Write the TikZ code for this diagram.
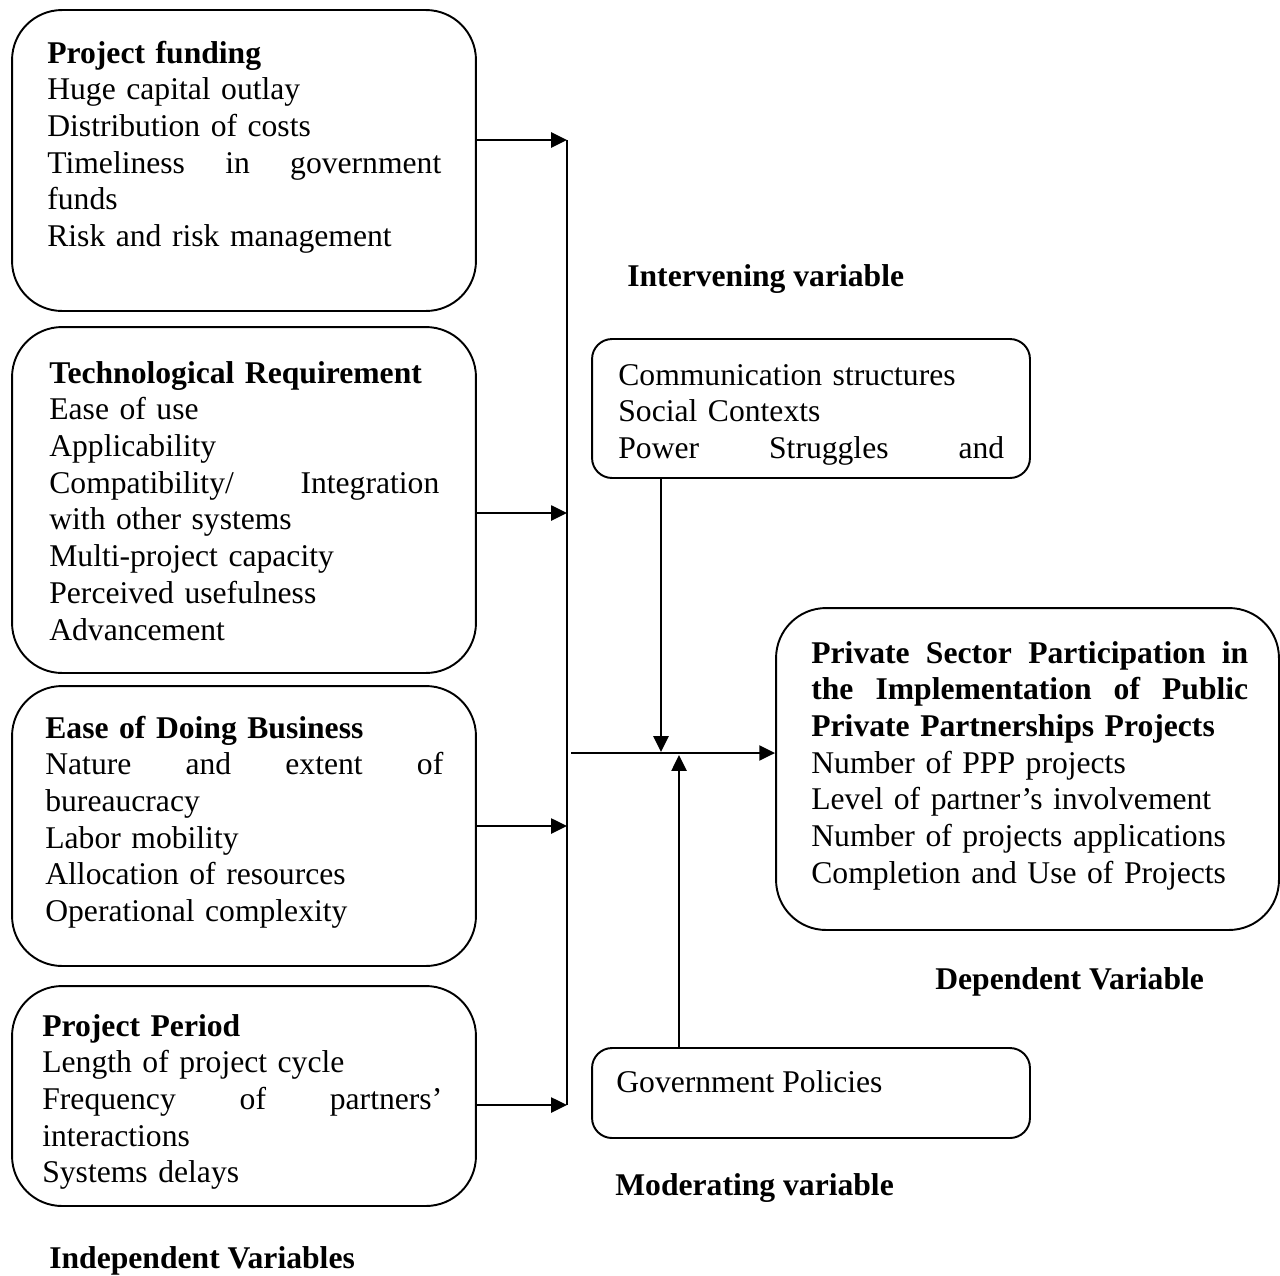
\documentclass[tikz,border=0pt]{standalone}
\usepackage{fontspec}
\setmainfont{Liberation Serif}
\usepackage{tikz}
\usetikzlibrary{arrows.meta}
\usetikzlibrary{calc}
\tikzstyle{vb}=[rectangle,draw,line width=1.1pt,rounded corners=1cm,inner sep=0pt]
\tikzstyle{sb}=[rectangle,draw,line width=1.1pt,rounded corners=0.4cm,inner sep=0pt]
\tikzstyle{txt}=[anchor=base west,inner sep=0pt,align=left,font=\fontsize{18}{20.9}\selectfont]
\tikzstyle{lbl}=[anchor=base west,inner sep=0pt,font=\fontsize{18}{20.9}\selectfont\bfseries]
\tikzstyle{arr}=[line width=1.3pt,-{Triangle[length=9pt,width=8.5pt]}]

\begin{document}
\begin{tikzpicture}[x=0.02cm,y=-0.02cm]
\useasboundingbox (0,0) rectangle (1280,1275);

%independent boxes
\node[vb,minimum width=9.28cm,minimum height=6.02cm] (fund) at (244,160.5) {};
\node[vb,minimum width=9.28cm,minimum height=6.92cm] (tech) at (244,500) {};
\node[vb,minimum width=9.28cm,minimum height=5.6cm] (ease) at (244,826) {};
\node[vb,minimum width=9.28cm,minimum height=4.4cm] (period) at (244,1096) {};

\node[txt,text width=7.88cm] (fundtxt) at (47,63) {\textbf{Project funding}\\
Huge capital outlay\\
Distribution of costs\\
Timeliness\hfill in\hfill government\\
funds\\
Risk and risk management};

\node[txt,text width=7.8cm] (techtxt) at (49,383) {\textbf{Technological Requirement}\\
Ease of use\\
Applicability\\
Compatibility/\hfill Integration\\
with other systems\\
Multi-project capacity\\
Perceived usefulness\\
Advancement};

\node[txt,text width=7.96cm] (easetxt) at (45,738) {\textbf{Ease of Doing Business}\\
Nature\hfill and\hfill extent\hfill of\\
bureaucracy\\
Labor mobility\\
Allocation of resources\\
Operational complexity};

\node[txt,text width=8cm] (periodtxt) at (42,1036) {\textbf{Project Period}\\
Length of project cycle\\
Frequency\hfill of\hfill partners’\\
interactions\\
Systems delays};

%intervening, moderating, dependent
\node[sb,minimum width=8.76cm,minimum height=2.78cm] (inter) at (811,408.5) {};
\node[txt,text width=7.72cm] (intertxt) at (618,385) {Communication structures\\
Social Contexts\\
Power\hfill Struggles\hfill and};

\node[sb,minimum width=8.76cm,minimum height=1.8cm] (gov) at (811,1093) {};
\node[txt] (govtxt) at (616,1092) {Government Policies};

\node[vb,minimum width=10.06cm,minimum height=6.44cm] (dep) at (1027.5,769) {};
\node[txt,text width=8.74cm] (deptxt) at (811,663) {\textbf{Private\hfill Sector\hfill Participation\hfill in}\\
\textbf{the\hfill Implementation\hfill of\hfill Public}\\
\textbf{Private Partnerships Projects}\\
Number of PPP projects\\
Level of partner’s involvement\\
Number of projects applications\\
Completion and Use of Projects};

%labels
\node[lbl] (interlbl) at (627,286) {Intervening variable};
\node[lbl] (deplbl) at (935,989) {Dependent Variable};
\node[lbl] (modlbl) at (615,1195) {Moderating variable};
\node[lbl] (indlbl) at (49,1268) {Independent Variables};

%connectors
\coordinate (b1) at (567,140);
\coordinate (b2) at (567,513);
\coordinate (b3) at (567,826);
\coordinate (b4) at (567,1105);
\draw[line width=0.9pt] (b1) -- (b4);
\foreach \n/\b in {fund/b1,tech/b2,ease/b3,period/b4} {
  \draw[arr] (\n.east |- \b) -- (\b);
}
\coordinate (jn) at (571,753);
\coordinate (dn) at (661,752);
\coordinate (up) at (679,755);
\draw[arr] (jn) -- (jn -| dep.west);
\draw[arr] (inter.south -| dn) -- (dn);
\draw[arr] (gov.north -| up) -- (up);
\end{tikzpicture}
\end{document}
